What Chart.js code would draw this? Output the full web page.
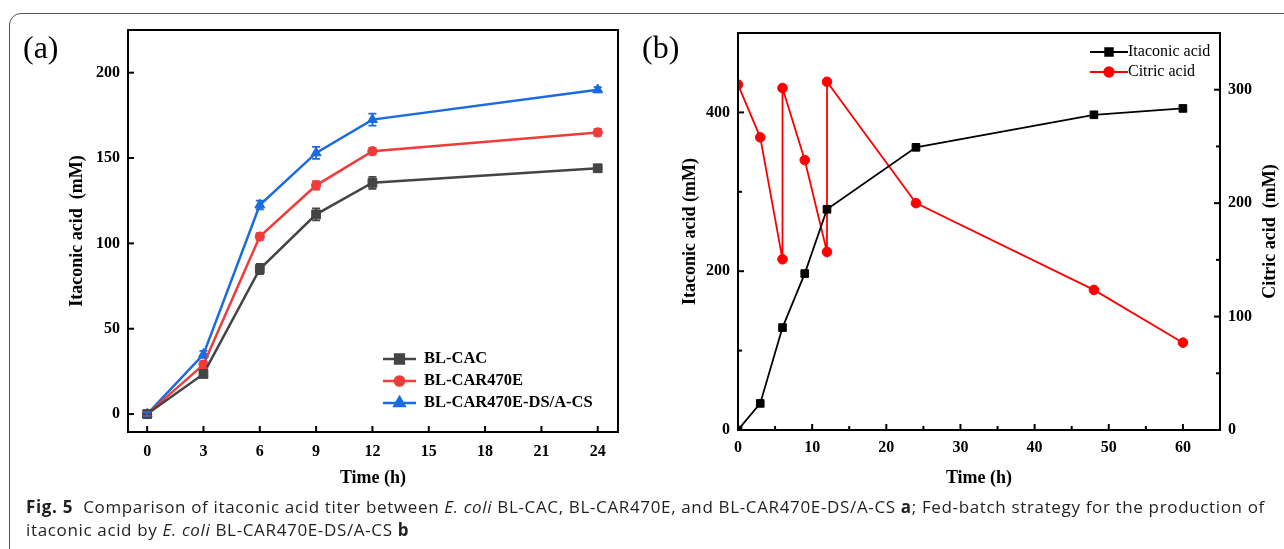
<!DOCTYPE html>
<html>
<head>
<meta charset="utf-8">
<script src="https://cdn.jsdelivr.net/npm/chart.js@4/dist/chart.umd.min.js"></script>
<style>
  body { margin: 0; width: 1284px; height: 549px; background: #fff; overflow: hidden; position: relative; }
  .frame { position: absolute; left: 9px; top: 13px; width: 1320px; height: 580px; border: 1px solid #555; border-radius: 12px; }
  #chartA { position: absolute; left: 0; top: 0; }
  #chartB { position: absolute; left: 630px; top: 0; }
  .caption { position: absolute; left: 26px; top: 495px; font-family: "Open Sans", "Noto Sans", sans-serif; font-size: 17px; line-height: 23px; color: #231f20; white-space: nowrap; }
</style>
</head>
<body>
<div class="frame"></div>
<canvas id="chartA" width="640" height="500"></canvas>
<canvas id="chartB" width="654" height="500"></canvas>
<div class="caption" id="caption"><span id="capLine1"><b>Fig. 5</b>&nbsp; Comparison of itaconic acid titer between <i>E. coli</i> BL-CAC, BL-CAR470E, and BL-CAR470E-DS/A-CS <b>a</b>; Fed-batch strategy for the production of</span><br>itaconic acid by <i>E. coli</i> BL-CAR470E-DS/A-CS <b>b</b></div>
<script>
// panel (a)
const timeLabels = ["0", "3", "6", "9", "12", "15", "18", "21", "24"];
const sampleTimes = ["0", "3", "6", "9", "12", "24"];
const cacValues = [0, 23.5, 85, 117, 135.5, 144];
const cacErrors = [1, 2, 3, 3.5, 3.5, 2];
const car470eValues = [0, 29, 104, 134, 154, 165];
const car470eErrors = [1, 2, 2, 2.5, 2, 2];
const dsacsValues = [0, 35, 122.5, 153, 172.5, 190];
const dsacsErrors = [1, 2, 2.5, 3.5, 3.5, 1.5];
const yTicksA = [0, 50, 100, 150, 200];

// panel (b)
const fedTimes = [0, 3, 6, 9, 12, 24, 48, 60];
const itaconicValues = [0, 33.5, 129, 197, 278, 356, 397, 405];
const citricTimes = [0, 3, 6, 6, 9, 12, 12, 24, 48, 60];
const citricValues = [304.5, 258, 150.5, 301.5, 238, 157, 307, 200, 123.5, 77];
const xTicksB = [0, 5, 10, 15, 20, 25, 30, 35, 40, 45, 50, 55, 60, 65];
const yTicksLeftB = [0, 100, 200, 300, 400, 500];
const yTicksRightB = [0, 50, 100, 150, 200, 250, 300, 350];

const serif = "'Liberation Serif', 'Times New Roman', serif";
const tickFont = { family: serif, size: 16, weight: "bold" };
const titleFont = { family: serif, size: 18, weight: "bold" };

// stretch the caption so its first line ends where the original does
const capLine1 = document.getElementById("capLine1");
const capChars = capLine1.textContent.length;
const capWidth = capLine1.getBoundingClientRect().width;
document.getElementById("caption").style.letterSpacing = ((1239 - capWidth) / capChars) + "px";

function setTicks(values) {
    return (scale) => { scale.ticks = values.map(v => ({ value: v })); };
}

// ticks pointing into the plot, plus the black frame
function frameAndTicks(chart, specs) {
    const ctx = chart.ctx;
    const a = chart.chartArea;
    ctx.save();
    ctx.strokeStyle = "#000";
    ctx.lineWidth = 2;
    specs.forEach(s => {
        const scale = chart.scales[s.id];
        scale.ticks.forEach(t => {
            const p = scale.getPixelForValue(t.value);
            const len = s.isMajor(t.value) ? 6 : 4;
            ctx.beginPath();
            if (scale.isHorizontal()) {
                ctx.moveTo(p, a.bottom); ctx.lineTo(p, a.bottom - len);
            } else if (scale.position === "left") {
                ctx.moveTo(a.left, p); ctx.lineTo(a.left + len, p);
            } else {
                ctx.moveTo(a.right, p); ctx.lineTo(a.right - len, p);
            }
            ctx.stroke();
        });
    });
    ctx.strokeRect(a.left, a.top, a.right - a.left, a.bottom - a.top);
    ctx.restore();
}

function drawLegend(chart, x0, x1, rows, font) {
    const ctx = chart.ctx;
    ctx.save();
    chart.data.datasets.forEach((ds, i) => {
        const y = rows[i];
        ctx.strokeStyle = ds.borderColor;
        ctx.fillStyle = ds.borderColor;
        ctx.lineWidth = ds.borderWidth;
        ctx.beginPath();
        ctx.moveTo(x0, y); ctx.lineTo(x1, y);
        ctx.stroke();
        Chart.helpers.drawPoint(ctx, { pointStyle: ds.pointStyle, radius: ds.pointRadius, borderWidth: 1, rotation: 0 }, (x0 + x1) / 2, y);
        ctx.fillStyle = font.color;
        ctx.font = font.css;
        ctx.textBaseline = "middle";
        ctx.textAlign = "left";
        ctx.fillText(ds.label, x1 + font.gap, y);
    });
    ctx.restore();
}

function panelLabel(chart, text, x, y) {
    const ctx = chart.ctx;
    ctx.save();
    ctx.fillStyle = "#000";
    ctx.font = "32px " + serif;
    ctx.textBaseline = "middle";
    ctx.fillText(text, x, y);
    ctx.restore();
}

function seriesA(label, values, errors, color, style, radius) {
    return {
        label: label,
        data: sampleTimes.map((t, i) => ({ x: timeLabels.indexOf(t), y: values[i] })),
        errors: errors,
        borderColor: color,
        backgroundColor: color,
        pointBackgroundColor: color,
        pointBorderColor: color,
        borderWidth: 2.5,
        pointStyle: style,
        pointRadius: radius,
        pointBorderWidth: 1,
        tension: 0
    };
}

new Chart(document.getElementById("chartA"), {
    type: "line",
    data: {
        datasets: [
            seriesA("BL-CAC", cacValues, cacErrors, "#444444", "rect", 6.2),
            seriesA("BL-CAR470E", car470eValues, car470eErrors, "#f03b3b", "circle", 4.6),
            seriesA("BL-CAR470E-DS/A-CS", dsacsValues, dsacsErrors, "#1b6be0", "triangle", 5.8)
        ]
    },
    options: {
        responsive: false,
        animation: false,
        layout: { padding: { left: 0, top: 30, right: 22, bottom: 0 } },
        plugins: { legend: { display: false }, tooltip: { enabled: false } },
        scales: {
            x: {
                type: "linear",
                min: -0.34,
                max: 8.36,
                afterBuildTicks: setTicks(timeLabels.map((t, i) => i)),
                afterFit: (s) => { s.height = 68; },
                grid: { display: false, drawTicks: false },
                border: { display: false },
                ticks: { autoSkip: false, maxRotation: 0, padding: 10, color: "#000", font: tickFont,
                    callback: (v) => timeLabels[v] },
                title: { display: true, text: "Time (h)", color: "#000", font: titleFont, padding: { top: 0, bottom: 11 } }
            },
            y: {
                min: -10.5,
                max: 225,
                afterBuildTicks: setTicks(yTicksA),
                afterFit: (s) => { s.width = 128; },
                grid: { display: false, drawTicks: false },
                border: { display: false },
                ticks: { padding: 8, color: "#000", font: tickFont },
                title: { display: true, text: "Itaconic acid  (mM)", color: "#000", font: titleFont, padding: { top: 67, bottom: 0 } }
            }
        }
    },
    plugins: [{
        id: "decorA",
        afterDatasetsDraw(chart) {
            const ctx = chart.ctx;
            const ys = chart.scales.y;
            const xs = chart.scales.x;
            ctx.save();
            chart.data.datasets.forEach(ds => {
                ctx.strokeStyle = ds.borderColor;
                ctx.lineWidth = 1.8;
                ds.data.forEach((pt, i) => {
                    const px = xs.getPixelForValue(pt.x);
                    const top = ys.getPixelForValue(pt.y + ds.errors[i]);
                    const bot = ys.getPixelForValue(pt.y - ds.errors[i]);
                    ctx.beginPath();
                    ctx.moveTo(px, top); ctx.lineTo(px, bot);
                    ctx.moveTo(px - 4, top); ctx.lineTo(px + 4, top);
                    ctx.moveTo(px - 4, bot); ctx.lineTo(px + 4, bot);
                    ctx.stroke();
                });
            });
            ctx.restore();
        },
        afterDraw(chart) {
            frameAndTicks(chart, [
                { id: "x", isMajor: () => true },
                { id: "y", isMajor: () => true }
            ]);
            drawLegend(chart, 383, 416, [359, 381, 403],
                { css: "bold 16.5px " + serif, color: "#000", gap: 8 });
            panelLabel(chart, "(a)", 23, 50);
        }
    }]
});

new Chart(document.getElementById("chartB"), {
    type: "line",
    data: {
        datasets: [
            {
                label: "Itaconic acid",
                data: fedTimes.map((t, i) => ({ x: t, y: itaconicValues[i] })),
                yAxisID: "y",
                borderColor: "#000",
                pointBackgroundColor: "#000",
                pointBorderColor: "#000",
                borderWidth: 1.8,
                pointStyle: "rect",
                pointRadius: 5.4,
                pointBorderWidth: 1,
                tension: 0
            },
            {
                label: "Citric acid",
                data: citricTimes.map((t, i) => ({ x: t, y: citricValues[i] })),
                yAxisID: "y1",
                borderColor: "#ff0000",
                pointBackgroundColor: "#ff0000",
                pointBorderColor: "#ff0000",
                borderWidth: 1.8,
                pointStyle: "circle",
                pointRadius: 4.8,
                pointBorderWidth: 1,
                tension: 0
            }
        ]
    },
    options: {
        responsive: false,
        animation: false,
        layout: { padding: { left: 0, top: 33, right: 0, bottom: 0 } },
        plugins: { legend: { display: false }, tooltip: { enabled: false } },
        scales: {
            x: {
                type: "linear",
                min: 0,
                max: 65,
                afterBuildTicks: setTicks(xTicksB),
                afterFit: (s) => { s.height = 70; },
                grid: { display: false, drawTicks: false },
                border: { display: false },
                ticks: { autoSkip: false, maxRotation: 0, padding: 8, color: "#000", font: tickFont,
                    callback: (v) => (v % 10 === 0 ? String(v) : "") },
                title: { display: true, text: "Time (h)", color: "#000", font: titleFont, padding: { top: 0, bottom: 11 } }
            },
            y: {
                position: "left",
                min: 0,
                max: 500,
                afterBuildTicks: setTicks(yTicksLeftB),
                afterFit: (s) => { s.width = 108; },
                grid: { display: false, drawTicks: false },
                border: { display: false },
                ticks: { padding: 8, color: "#000", font: tickFont,
                    callback: (v) => (v % 200 === 0 ? String(v) : "") },
                title: { display: true, text: "Itaconic acid (mM)", color: "#000", font: titleFont, padding: { top: 50, bottom: 0 } }
            },
            y1: {
                position: "right",
                min: 0,
                max: 350,
                afterBuildTicks: setTicks(yTicksRightB),
                afterFit: (s) => { s.width = 64; },
                grid: { display: false, drawTicks: false },
                border: { display: false },
                ticks: { padding: 8, color: "#000", font: tickFont,
                    callback: (v) => (v % 100 === 0 ? String(v) : "") },
                title: { display: false }
            }
        }
    },
    plugins: [{
        id: "decorB",
        afterDraw(chart) {
            frameAndTicks(chart, [
                { id: "x", isMajor: (v) => v % 10 === 0 },
                { id: "y", isMajor: (v) => v % 200 === 0 },
                { id: "y1", isMajor: (v) => v % 100 === 0 }
            ]);
            drawLegend(chart, 460, 498, [52, 72],
                { css: "16px " + serif, color: "#000", gap: 0 });
            panelLabel(chart, "(b)", 12, 50);

            // right axis title reads bottom-to-top like the left one
            const ctx = chart.ctx;
            const a = chart.chartArea;
            ctx.save();
            ctx.translate(640, (a.top + a.bottom) / 2);
            ctx.rotate(-Math.PI / 2);
            ctx.font = "bold 18px " + serif;
            ctx.fillStyle = "#000";
            ctx.textAlign = "center";
            ctx.textBaseline = "middle";
            ctx.fillText("Citric acid  (mM)", 0, 0);
            ctx.restore();
        }
    }]
});
</script>
</body>
</html>
